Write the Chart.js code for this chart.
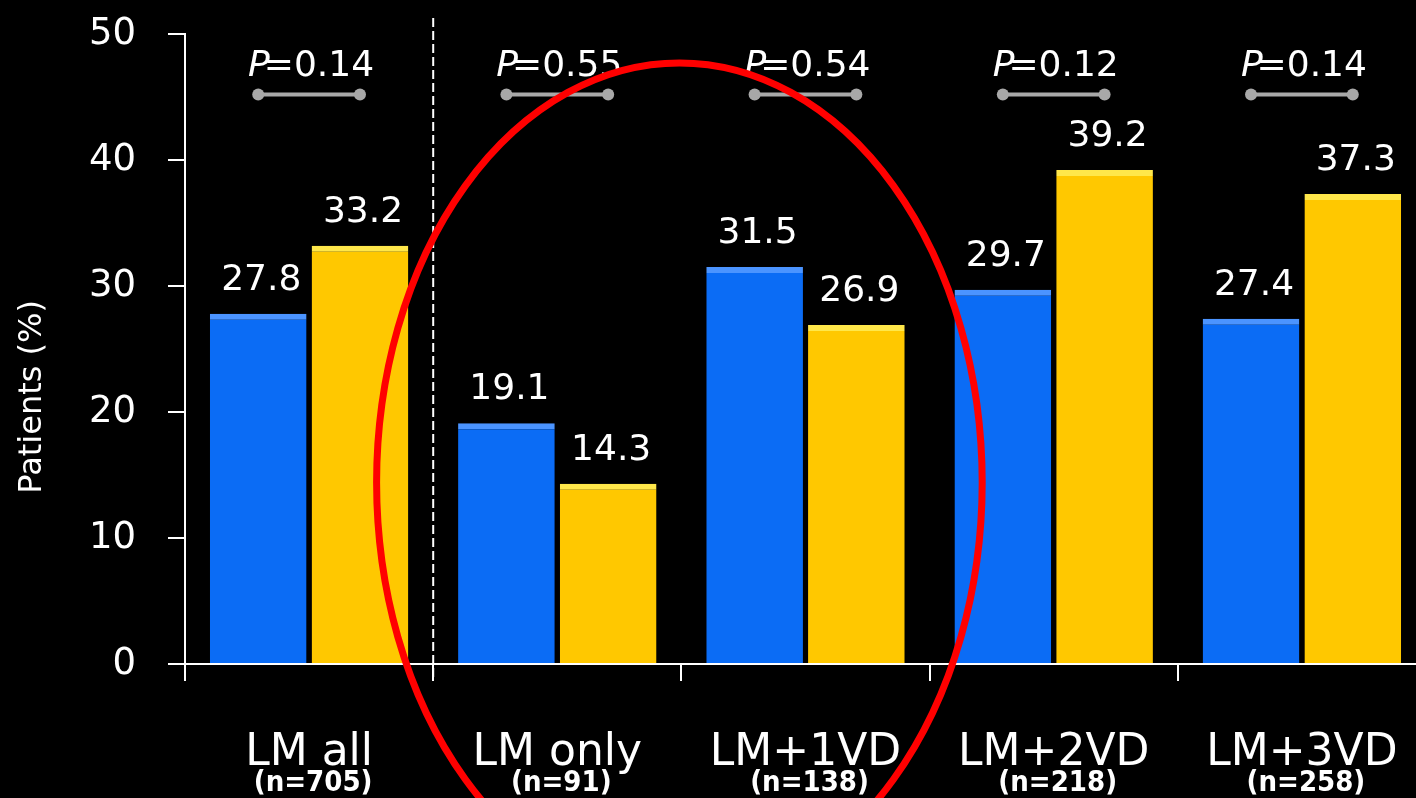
<!DOCTYPE html>
<html>
<head>
<meta charset="utf-8">
<script src="https://cdn.jsdelivr.net/npm/chart.js@4"></script>
<style>
  html, body { margin: 0; padding: 0; background: #000; overflow: hidden; }
  #chart { display: block; background: #000; }
</style>
</head>
<body>
<canvas id="chart" width="1440" height="798"></canvas>
<script>
const categories = ['LM all', 'LM only', 'LM+1VD', 'LM+2VD', 'LM+3VD']
const groupSizes = ['(n=705)', '(n=91)', '(n=138)', '(n=218)', '(n=258)']
const blueValues = [27.8, 19.1, 31.5, 29.7, 27.4]
const yellowValues = [33.2, 14.3, 26.9, 39.2, 37.3]
const pValues = ['0.14', '0.55', '0.54', '0.12', '0.14']
const yTicks = [0, 10, 20, 30, 40, 50]

const BLUE = '#0b6cf5'
const BLUE_TOP = '#4b94ff'
const YELLOW = '#ffc800'
const YELLOW_TOP = '#ffe74a'
const FONT = '"DejaVu Sans", sans-serif'

const overlay = {
  id: 'overlay',
  afterDatasetsDraw(chart) {
    const { ctx, chartArea, scales } = chart
    const x = scales.x
    const y = scales.y
    const metaBlue = chart.getDatasetMeta(0)
    const metaYellow = chart.getDatasetMeta(1)
    const catWidth = x.getPixelForValue(1) - x.getPixelForValue(0)

    ctx.save()

    // y axis title, sits a bit below the middle like the original slide
    ctx.save()
    ctx.translate(33, y.getPixelForValue(21.2))
    ctx.rotate(-Math.PI / 2)
    ctx.fillStyle = '#ffffff'
    ctx.font = `32px ${FONT}`
    ctx.textAlign = 'center'
    ctx.textBaseline = 'middle'
    ctx.fillText('Patients (%)', 0, 0)
    ctx.restore()

    // dashed separator after "LM all"
    const sepX = (x.getPixelForValue(0) + x.getPixelForValue(1)) / 2
    ctx.strokeStyle = '#ffffff'
    ctx.lineWidth = 2
    ctx.setLineDash([9, 4])
    ctx.beginPath()
    ctx.moveTo(sepX, chartArea.top - 16)
    ctx.lineTo(sepX, chartArea.bottom + 16)
    ctx.stroke()
    ctx.setLineDash([])

    // value labels
    ctx.fillStyle = '#ffffff'
    ctx.font = `36px ${FONT}`
    ctx.textAlign = 'center'
    ctx.textBaseline = 'alphabetic'
    ;[metaBlue, metaYellow].forEach((meta, di) => {
      const vals = di === 0 ? blueValues : yellowValues
      meta.data.forEach((bar, i) => {
        ctx.fillText(vals[i].toFixed(1), bar.x + 3, bar.y - 24)
      })
    })

    // P values with connectors
    const pY = y.getPixelForValue(47.4)
    const lineY = y.getPixelForValue(45.2)
    categories.forEach((c, i) => {
      const x1 = metaBlue.data[i].x
      const x2 = metaYellow.data[i].x
      const mid = (x1 + x2) / 2
      ctx.font = `italic 36px ${FONT}`
      const pW = ctx.measureText('P').width
      ctx.font = `36px ${FONT}`
      const restW = ctx.measureText('=' + pValues[i]).width
      const total = pW + restW - 6
      const start = mid + 2 - total / 2
      ctx.textAlign = 'left'
      ctx.textBaseline = 'middle'
      ctx.fillStyle = '#ffffff'
      ctx.font = `italic 36px ${FONT}`
      ctx.fillText('P', start, pY)
      ctx.font = `36px ${FONT}`
      ctx.fillText('=' + pValues[i], start + pW - 6, pY)

      ctx.strokeStyle = '#a8a8a8'
      ctx.fillStyle = '#a8a8a8'
      ctx.lineWidth = 4
      ctx.beginPath()
      ctx.moveTo(x1, lineY)
      ctx.lineTo(x2, lineY)
      ctx.stroke()
      ;[x1, x2].forEach(px => {
        ctx.beginPath()
        ctx.arc(px, lineY, 6, 0, Math.PI * 2)
        ctx.fill()
      })
    })

    // group sizes under category labels
    ctx.fillStyle = '#ffffff'
    ctx.textAlign = 'center'
    ctx.textBaseline = 'middle'
    ctx.font = `bold 29px "DejaVu Sans Condensed", ${FONT}`
    groupSizes.forEach((s, i) => {
      ctx.fillText(s, x.getPixelForValue(i) + 4, chartArea.bottom + 119)
    })

    // red highlight ellipse around LM only / LM+1VD
    const cx = (x.getPixelForValue(1) + x.getPixelForValue(2)) / 2 - 2
    const cy = y.getPixelForValue(14.4)
    const rx = catWidth * 1.22
    const ry = y.getPixelForValue(0) - y.getPixelForValue(33.3)
    ctx.strokeStyle = '#ff0000'
    ctx.lineWidth = 7
    ctx.beginPath()
    ctx.ellipse(cx, cy, rx, ry, 0, 0, Math.PI * 2)
    ctx.stroke()

    ctx.restore()
  }
}

new Chart(document.getElementById('chart'), {
  type: 'bar',
  data: {
    labels: categories,
    datasets: [
      {
        label: 'Blue',
        data: blueValues,
        backgroundColor: BLUE,
        borderColor: BLUE_TOP,
        borderWidth: { top: 6, left: 0, right: 0, bottom: 0 },
        borderSkipped: false,
        categoryPercentage: 0.82,
        barPercentage: 0.95
      },
      {
        label: 'Yellow',
        data: yellowValues,
        backgroundColor: YELLOW,
        borderColor: YELLOW_TOP,
        borderWidth: { top: 6, left: 0, right: 0, bottom: 0 },
        borderSkipped: false,
        categoryPercentage: 0.82,
        barPercentage: 0.95
      }
    ]
  },
  options: {
    responsive: false,
    animation: false,
    layout: { padding: { top: 34, right: 14, left: 0, bottom: 0 } },
    plugins: {
      legend: { display: false },
      tooltip: { enabled: false }
    },
    scales: {
      x: {
        grid: {
          display: true,
          offset: true,
          drawOnChartArea: false,
          color: '#ffffff',
          lineWidth: 2,
          tickLength: 17
        },
        border: { color: '#ffffff', width: 2 },
        ticks: {
          color: '#ffffff',
          font: { family: FONT, size: 44 },
          padding: 46,
          maxRotation: 0
        },
        afterFit(scale) {
          scale.height = 134
          scale.paddingLeft = 0
          scale.paddingRight = 0
        }
      },
      y: {
        min: 0,
        max: 50,
        afterBuildTicks(scale) {
          scale.ticks = yTicks.map(v => ({ value: v }))
        },
        grid: {
          display: true,
          drawOnChartArea: false,
          color: '#ffffff',
          lineWidth: 2,
          tickLength: 17
        },
        border: { color: '#ffffff', width: 2 },
        ticks: {
          color: '#ffffff',
          font: { family: FONT, size: 37 },
          padding: 32
        },
        afterFit(scale) {
          scale.width = 185
          scale.paddingTop = 0
          scale.paddingBottom = 0
        }
      }
    }
  },
  plugins: [overlay]
})
</script>
</body>
</html>
